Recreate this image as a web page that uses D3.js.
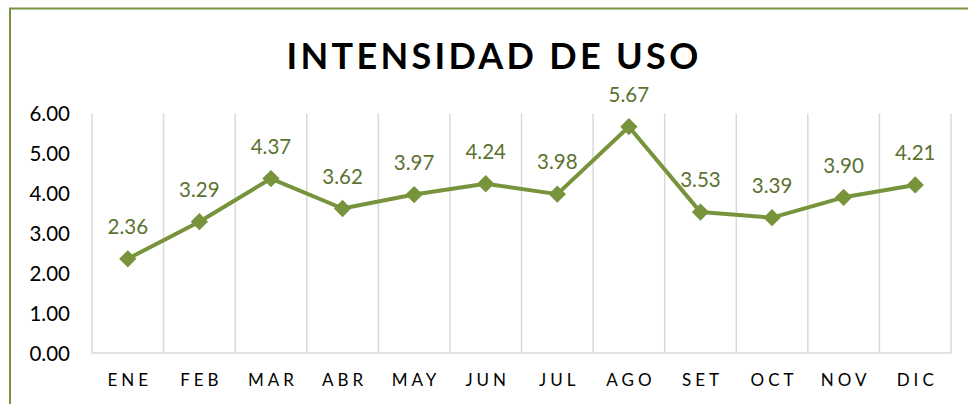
<!DOCTYPE html>
<html><head><meta charset="utf-8">
<script src="https://cdn.jsdelivr.net/npm/d3@7"></script>
<style>body{margin:0;background:#fff}svg{display:block}</style>
</head><body>
<script>
const months = ["ENE","FEB","MAR","ABR","MAY","JUN","JUL","AGO","SET","OCT","NOV","DIC"];
const values = [2.36,3.29,4.37,3.62,3.97,4.24,3.98,5.67,3.53,3.39,3.90,4.21];
const yTicks = [0,1,2,3,4,5,6];
const title = "INTENSIDAD DE USO";

(function(){
const W = 968, H = 404;
const svg = d3.select("body").append("svg").attr("width", W).attr("height", H);
svg.append("rect").attr("width", W).attr("height", H).attr("fill", "#fff");
// frame
svg.append("path").attr("d", `M10,${H+5} L10,8.5 L${W+5},8.5`).attr("fill","none")
  .attr("stroke","#77933c").attr("stroke-width",2);

const pL = 92, pR = 951, pT = 113.5, pB = 353;
const x = d3.scaleBand().domain(months).range([pL, pR]);
const y = d3.scaleLinear().domain([0, 6]).range([pB, pT]);

// title
svg.append("text").attr("x", 494).attr("y", 69).attr("text-anchor","middle")
  .attr("font-family","Lato").attr("font-weight","bold").attr("font-size",36)
  .attr("letter-spacing", 3.3).attr("fill","#000").text(title);

// vertical gridlines at band boundaries
const bounds = months.map(m => x(m)).concat([pR]);
svg.append("g").selectAll("line").data(bounds).join("line")
  .attr("x1", d => d).attr("x2", d => d).attr("y1", y(6)).attr("y2", pB)
  .attr("stroke","#d9d9d9").attr("stroke-width",1.5);
svg.append("line").attr("x1", pL).attr("x2", pR).attr("y1", pB).attr("y2", pB)
  .attr("stroke","#d9d9d9").attr("stroke-width",1.5);

// y axis labels
const yAxis = d3.axisLeft(y).tickValues(yTicks).tickFormat(d3.format(".2f")).tickSize(0).tickPadding(0);
const ya = svg.append("g").attr("transform", `translate(70,0)`).call(yAxis);
ya.select(".domain").remove();
ya.selectAll("text").attr("font-family","Lato").attr("font-size",20.5).attr("fill","#000").attr("dy","0.35em");

// x axis labels
const xAxis = d3.axisBottom(x).tickSize(0).tickPadding(0);
const xa = svg.append("g").attr("transform", `translate(0,380)`).call(xAxis);
xa.select(".domain").remove();
xa.selectAll("text").attr("font-family","Lato").attr("font-size",17).attr("fill","#000")
  .attr("letter-spacing", 4).attr("dy","0.35em").attr("dx", 2);

// line
const line = d3.line().x((d,i) => x(months[i]) + x.bandwidth()/2).y(d => y(d));
svg.append("path").datum(values).attr("d", line).attr("fill","none")
  .attr("stroke","#77933c").attr("stroke-width",4).attr("stroke-linejoin","round");

// markers
svg.append("g").selectAll("path").data(values).join("path")
  .attr("d", d3.symbol().type(d3.symbolDiamond2).size(190))
  .attr("transform", (d,i) => `translate(${x(months[i]) + x.bandwidth()/2},${y(d)})`)
  .attr("fill","#77933c");

// data labels
svg.append("g").selectAll("text").data(values).join("text")
  .attr("x", (d,i) => x(months[i]) + x.bandwidth()/2)
  .attr("y", d => y(d) - 32).attr("dy","0.35em").attr("text-anchor","middle")
  .attr("font-family","Lato").attr("font-size",20.5).attr("fill","#5b7230")
  .text(d => d.toFixed(2));
})();
</script>
</body></html>
